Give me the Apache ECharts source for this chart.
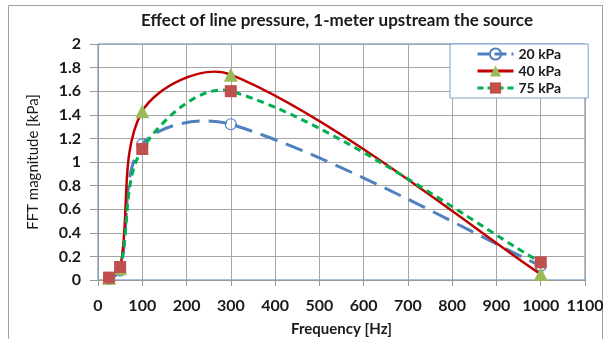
<!DOCTYPE html>
<html><head><meta charset="utf-8">
<script src="https://cdn.jsdelivr.net/npm/echarts@6/dist/echarts.min.js"></script>
<style>html,body{margin:0;padding:0;background:#fff}#c{width:611px;height:339px}</style>
</head><body><div id="c"></div>
<script>
const freqs = [25, 50, 100, 300, 1000];
const kPa20 = [0.01, 0.08, 1.15, 1.32, 0.12];
const kPa40 = [0.02, 0.10, 1.43, 1.74, 0.05];
const kPa75 = [0.02, 0.11, 1.11, 1.60, 0.15];
const seriesNames = ['20 kPa', '40 kPa', '75 kPa'];
const xTicks = [0, 1100, 100];
const yTicks = [0, 2, 0.2];

const pair = (ys) => freqs.map((f, i) => [f, ys[i]]);
const font = 'Lato, "Open Sans", sans-serif';
const txt = '#1a1a1a';

// Excel-like smoothed curve (length-weighted bezier) through the data points, positioned via the axis scales
function curve(name, ys, stroke, width, dash, z) {
  return {
    name: name + ' curve', type: 'custom', z: z, silent: true, clip: true,
    data: pair(ys),
    renderItem: function (params, api) {
      if (params.dataIndex !== 0) return null;
      const p = freqs.map((f, i) => api.coord([f, ys[i]]));
      const dist = (u, v) => Math.hypot(u[0] - v[0], u[1] - v[1]);
      let d = 'M' + p[0][0] + ' ' + p[0][1];
      for (let i = 0; i < p.length - 1; i++) {
        const a = p[Math.max(i - 1, 0)], b = p[i], c = p[i + 1], e = p[Math.min(i + 2, p.length - 1)];
        const dab = dist(a, b), dbc = dist(b, c), dce = dist(c, e);
        const f1 = dab > 0 ? dbc / (dab + dbc) / 3 : 1 / 6;
        const f2 = dce > 0 ? dbc / (dbc + dce) / 3 : 1 / 6;
        const c1 = [b[0] + (c[0] - a[0]) * f1, b[1] + (c[1] - a[1]) * f1];
        const c2 = [c[0] - (e[0] - b[0]) * f2, c[1] - (e[1] - b[1]) * f2];
        d += ' C' + c1[0] + ' ' + c1[1] + ' ' + c2[0] + ' ' + c2[1] + ' ' + c[0] + ' ' + c[1];
      }
      return { type: 'path', shape: { pathData: d },
        style: { fill: 'none', stroke: stroke, lineWidth: width, lineDash: dash, lineCap: 'butt' } };
    }
  };
}

const chart = echarts.init(document.getElementById('c'));
chart.setOption({
  animation: false,
  title: { text: 'Effect of line pressure, 1-meter upstream the source', left: 332, top: 7, textAlign: 'center',
    textStyle: { fontFamily: font, fontSize: 17, fontWeight: 'bold', color: txt } },
  graphic: [{ type: 'rect', shape: { x: 8.5, y: 5.5, width: 594, height: 340 }, style: { fill: 'none', stroke: '#A0A0A0', lineWidth: 1 }, silent: true }],
  grid: { left: 98, right: 26, top: 44, bottom: 59, show: true, borderColor: '#4F81BD', borderWidth: 1,
    containLabel: false, outerBoundsMode: 'none' },
  legend: {
    orient: 'vertical', left: 450, top: 44,
    padding: [3, 27, 3, 26], itemGap: 3, itemWidth: 36, itemHeight: 14,
    backgroundColor: '#fff', borderColor: '#7F9FC9', borderWidth: 1,
    textStyle: { fontFamily: font, fontSize: 14, fontWeight: 'bold', color: txt },
    data: [
      { name: seriesNames[0], lineStyle: { opacity: 1, color: '#4F81BD', width: 3, type: [12, 5] } },
      { name: seriesNames[1], lineStyle: { opacity: 1, color: '#C00000', width: 3, type: 'solid' } },
      { name: seriesNames[2], lineStyle: { opacity: 1, color: '#00B050', width: 3, type: [6, 4] } }
    ]
  },
  xAxis: {
    type: 'value', min: xTicks[0], max: xTicks[1], interval: xTicks[2],
    name: 'Frequency [Hz]', nameLocation: 'middle', nameGap: 42,
    nameTextStyle: { fontFamily: font, fontSize: 15, fontWeight: 'bold', color: txt },
    axisLine: { lineStyle: { color: '#999' } },
    axisTick: { show: true, length: 6, lineStyle: { color: '#999' } },
    axisLabel: { fontFamily: font, fontSize: 16, fontWeight: 'bold', color: txt, margin: 18, formatter: v => String(v) },
    splitLine: { show: true, lineStyle: { color: '#A6A6A6', width: 1 } }
  },
  yAxis: {
    type: 'value', min: yTicks[0], max: yTicks[1], interval: yTicks[2],
    name: 'FFT magnitude [kPa]', nameLocation: 'middle', nameGap: 57,
    nameTextStyle: { fontFamily: font, fontSize: 15, color: txt },
    axisLine: { show: true, lineStyle: { color: '#999' } },
    axisTick: { show: true, length: 8, lineStyle: { color: '#999' } },
    axisLabel: { fontFamily: font, fontSize: 16, fontWeight: 'bold', color: txt, margin: 17, formatter: v => String(v) },
    splitLine: { show: true, lineStyle: { color: '#A6A6A6', width: 1 } }
  },
  series: [
    { name: seriesNames[0], type: 'line', data: pair(kPa20), z: 3,
      lineStyle: { opacity: 0, color: '#4F81BD', width: 3 },
      symbol: 'circle', symbolSize: 11, showAllSymbol: true,
      itemStyle: { color: 'rgba(255,255,255,0)', borderColor: '#4F81BD', borderWidth: 1.2 } },
    { name: seriesNames[1], type: 'line', data: pair(kPa40), z: 5,
      lineStyle: { opacity: 0, color: '#C00000', width: 3 },
      symbol: 'triangle', symbolSize: 14,
      itemStyle: { color: '#9BBB59', borderWidth: 0 } },
    { name: seriesNames[2], type: 'line', data: pair(kPa75), z: 7,
      lineStyle: { opacity: 0, color: '#00B050', width: 3 },
      symbol: 'rect', symbolSize: 12,
      itemStyle: { color: '#C0504D', borderWidth: 0 } },
    curve(seriesNames[0], kPa20, '#4F81BD', 3, [18, 9], 2),
    curve(seriesNames[1], kPa40, '#C00000', 2.5, null, 4),
    curve(seriesNames[2], kPa75, '#00B050', 3, [7, 5], 6)
  ]
});
</script></body></html>
